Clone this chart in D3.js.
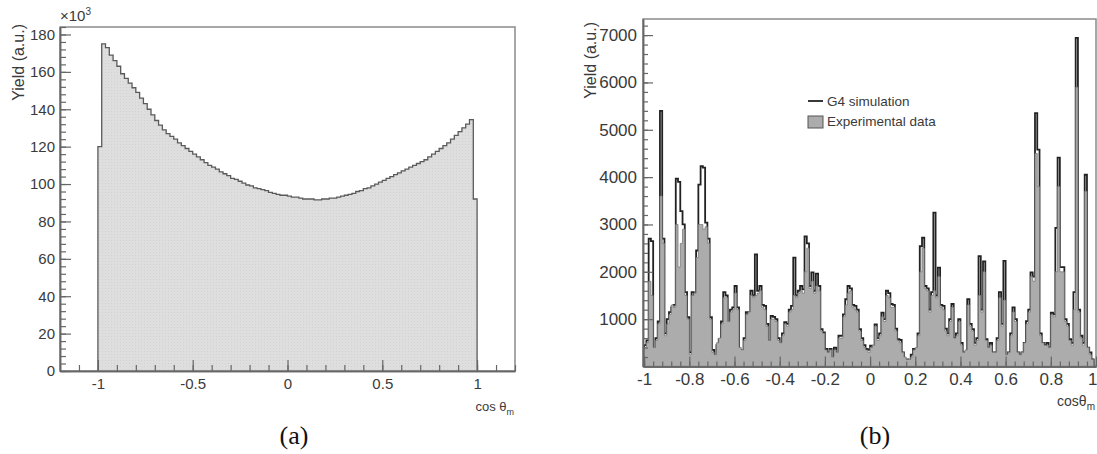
<!DOCTYPE html>
<html><head><meta charset="utf-8">
<script src="https://cdn.jsdelivr.net/npm/d3@7"></script>
<style>
body{margin:0;background:#fff}
text{font-family:"Liberation Sans",Arial,sans-serif}
text.serif{font-family:"Liberation Serif","Times New Roman",serif}
</style>
</head><body>
<svg id="c" width="1097" height="454"></svg>
<script>
// ---------- Panel (a): yield (x10^3) per bin, bins of equal width on [-1,1] ----------
const aRange = [-1, 1];
const aYields = [
 120,175,173,169,166,163,159,156.5,154,151.5,
 149,146,143,140,137,134,131.5,129,127,125.5,
 124,122,120.5,119,117.5,116,114.5,113,111.5,110,
 109,108,106.5,105.5,104.5,103,102.5,101.5,100.5,99.5,
 99,98,97.5,97,96.5,95.5,95,94.5,94,94,
 93.5,93,93,92.5,92,92,92,91.5,91.5,92,
 92,92.5,92.5,93,93.5,94,94.5,95,96,96.5,
 97.5,98,99,100,101,102,103,104,105,106,
 107,108,109,110,111,112,113,114.5,116,117.5,
 119,120.5,122,124,126,128,130,132,134.5,92
];
const aXTicks = [-1, -0.5, 0, 0.5, 1];
const aYTicks = [0, 20, 40, 60, 80, 100, 120, 140, 160, 180];

// ---------- Panel (b): two histograms on [-1,1] ----------
const bRange = [-1, 1];
const bSim = [
 450,550,2700,2650,350,600,950,5400,2700,700,
 1000,1150,1250,1300,3970,3900,3280,3000,1570,1040,
 300,1570,1500,2450,3840,4230,4200,3040,2700,1040,
 350,200,450,580,950,1570,1500,900,1200,1250,
 1700,1250,350,300,600,1150,1120,1600,1500,2370,
 1600,1700,1300,1280,900,515,1070,1050,1000,600,
 450,700,935,900,1200,1280,2300,1500,1600,1700,
 1630,2750,2600,1700,1990,1600,1960,1700,790,720,
 370,300,370,150,400,250,650,650,1100,1420,
 1700,1650,1300,1280,1200,790,600,450,370,350,
 440,400,890,600,700,1140,1000,1600,1550,1320,
 1300,800,580,560,300,150,150,100,250,370,
 370,700,2540,2720,1700,1650,1200,1570,3250,1500,
 2090,1300,1280,800,700,1000,1320,600,700,1000,
 500,300,300,1420,900,790,500,600,2330,1200,
 2220,580,400,500,300,300,600,1570,900,2230,
 200,300,700,1250,1000,300,250,300,500,960,
 1200,1990,1900,5350,4580,700,500,450,500,400,
 1140,1100,2930,4410,2100,2100,1000,900,580,500,
 1570,6940,1200,650,500,4050,400,300,150,0
];
const bExp = [
 400,500,1800,1500,400,550,900,3600,2600,650,
 900,1100,1300,1250,3000,2100,2600,2900,1500,1000,
 250,1500,1550,2300,3000,3000,2900,2950,2600,1000,
 300,250,500,600,900,1450,1450,950,1150,1200,
 1550,1200,400,350,550,1100,1150,1500,1450,1500,
 1550,1600,1250,1200,850,550,1000,1000,950,550,
 500,650,900,850,1150,1200,1500,1450,1550,1600,
 1550,2000,2500,1650,1800,1550,1700,1600,750,700,
 350,300,350,200,350,300,600,600,1050,1300,
 1550,1600,1250,1200,1150,750,550,400,350,300,
 400,450,850,550,650,1050,950,1500,1450,1250,
 1250,750,550,500,300,200,150,150,200,350,
 400,650,2000,2500,1650,1600,1150,1500,1600,1450,
 1900,1250,1200,750,650,950,1250,600,650,950,
 450,300,350,1300,850,750,450,550,1500,1150,
 2000,550,400,450,300,300,550,1450,850,1400,
 250,300,650,1150,950,300,250,300,500,900,
 1150,1900,1800,4500,3800,650,500,450,450,400,
 1100,1050,2000,3800,2000,2000,950,850,550,450,
 1200,5900,1150,600,450,3700,400,250,150,0
];
const bXTicks = [-1, -0.8, -0.6, -0.4, -0.2, 0, 0.2, 0.4, 0.6, 0.8, 1];
const bYTicks = [1000, 2000, 3000, 4000, 5000, 6000, 7000];
const legendLabels = ["G4 simulation", "Experimental data"];

const svg = d3.select("#c");

function stepPts(vals, range) {
  const w = (range[1] - range[0]) / vals.length;
  const pts = [[range[0], 0]];
  vals.forEach((v, i) => { pts.push([range[0] + i * w, v]); pts.push([range[0] + (i + 1) * w, v]); });
  pts.push([range[1], 0]);
  return pts;
}

function minorTicks(lo, hi, step) {
  const out = [];
  for (let k = Math.ceil(lo / step - 1e-9); k * step <= hi + 1e-9; k++) out.push(+(k * step).toFixed(6));
  return out;
}

function drawFrame(g, x, y, opt) {
  const [x0, x1] = x.range(), [y0, y1] = y.range();
  g.append("rect").attr("x", x0).attr("y", y1).attr("width", x1 - x0).attr("height", y0 - y1)
    .attr("fill", "none").attr("stroke", "#8a8a8a").attr("stroke-width", 1.5);
  const xa = g.append("g").attr("transform", `translate(0,${y0})`)
    .call(d3.axisBottom(x).tickValues(opt.xTicks).tickSize(-opt.major).tickPadding(opt.xPad).tickSizeOuter(0).tickFormat(opt.xFmt));
  g.append("g").attr("transform", `translate(0,${y0})`)
    .call(d3.axisBottom(x).tickValues(opt.xMinor).tickSize(-opt.minor).tickSizeOuter(0).tickFormat(""));
  const ya = g.append("g").attr("transform", `translate(${x0},0)`)
    .call(d3.axisLeft(y).tickValues(opt.yTicks).tickSize(-opt.major).tickPadding(opt.yPad).tickSizeOuter(0).tickFormat(opt.yFmt));
  g.append("g").attr("transform", `translate(${x0},0)`)
    .call(d3.axisLeft(y).tickValues(opt.yMinor).tickSize(-opt.minor).tickSizeOuter(0).tickFormat(""));
  g.selectAll(".domain").attr("stroke", "#666").attr("stroke-width", 1.5);
  g.selectAll(".tick line").attr("stroke", "#666").attr("stroke-width", 1.2);
  [xa, ya].forEach(a => a.selectAll("text").attr("font-size", opt.fs).attr("fill", "#3a3a3a"));
  return xa;
}

// ================= Panel (a) =================
{
  const x = d3.scaleLinear().domain([-1.2, 1.2]).range([60, 515]);
  const y = d3.scaleLinear().domain([0, 184]).range([371, 27]);
  const g = svg.append("g");
  const pts = stepPts(aYields, aRange);
  const defs = svg.append("defs");
  const pat = defs.append("pattern").attr("id", "hatchA").attr("width", 3).attr("height", 3)
    .attr("patternUnits", "userSpaceOnUse");
  pat.append("rect").attr("width", 3).attr("height", 3).attr("fill", "#dedede");
  pat.append("rect").attr("width", 1).attr("height", 1).attr("fill", "#d2d2d2");
  g.append("path").attr("d", d3.area().x(d => x(d[0])).y0(y(0)).y1(d => y(d[1]))(pts))
    .attr("fill", "url(#hatchA)");
  g.append("path").attr("d", d3.line().x(d => x(d[0])).y(d => y(d[1]))(pts))
    .attr("fill", "none").attr("stroke", "#5a5a5a").attr("stroke-width", 1.3);
  drawFrame(g, x, y, {
    xTicks: aXTicks, xMinor: minorTicks(-1.2, 1.2, 0.1), yTicks: aYTicks, yMinor: minorTicks(0, 184, 4),
    major: 11, minor: 6, xPad: 7, yPad: 5, fs: 15,
    xFmt: d => String(d), yFmt: d => String(d)
  });
  g.append("text").attr("x", 60).attr("y", 21).attr("font-size", 15).attr("fill", "#3a3a3a")
    .text("×10").append("tspan").attr("dy", -6).attr("font-size", 10).text("3");
  g.append("text").attr("transform", "translate(24,24) rotate(-90)").attr("text-anchor", "end")
    .attr("font-size", 16).attr("fill", "#3a3a3a").text("Yield (a.u.)");
  const t = g.append("text").attr("x", 514).attr("y", 411).attr("text-anchor", "end")
    .attr("font-size", 13).attr("fill", "#3a3a3a").text("cos θ");
  t.append("tspan").attr("dy", 4).attr("font-size", 9).text("m");
  g.append("text").attr("class", "serif").attr("x", 294).attr("y", 444).attr("text-anchor", "middle")
    .attr("font-size", 26).attr("fill", "#111").text("(a)");
}

// ================= Panel (b) =================
{
  const x = d3.scaleLinear().domain([-1.005, 1.0]).range([643, 1096]);
  const y = d3.scaleLinear().domain([0, 7340]).range([366.5, 19]);
  const g = svg.append("g");
  const sp = stepPts(bSim, bRange), ep = stepPts(bExp, bRange);
  g.append("path").attr("d", d3.line().x(d => x(d[0])).y(d => y(d[1]))(sp))
    .attr("fill", "none").attr("stroke", "#222").attr("stroke-width", 1.8);
  g.append("path").attr("d", d3.area().x(d => x(d[0])).y0(y(0)).y1(d => y(d[1]))(ep))
    .attr("fill", "#acacac").attr("stroke", "#7a7a7a").attr("stroke-width", 0.8);
  const xa = drawFrame(g, x, y, {
    xTicks: bXTicks, xMinor: minorTicks(-1, 1, 0.04), yTicks: bYTicks, yMinor: minorTicks(200, 7340, 200),
    major: 10, minor: 5, xPad: 6, yPad: 6, fs: 17,
    xFmt: d => String(d), yFmt: d => String(d)
  });
  // keep the last tick label ("1") inside the picture
  xa.selectAll(".tick text").filter(d => d === 1).attr("text-anchor", "end").attr("dx", 1);
  g.append("text").attr("transform", "translate(596,22) rotate(-90)").attr("text-anchor", "end")
    .attr("font-size", 16).attr("fill", "#3a3a3a").text("Yield (a.u.)");
  const t = g.append("text").attr("x", 1095).attr("y", 406).attr("text-anchor", "end")
    .attr("font-size", 14).attr("fill", "#3a3a3a").text("cosθ");
  t.append("tspan").attr("dy", 4).attr("font-size", 10).text("m");
  g.append("text").attr("class", "serif").attr("x", 875).attr("y", 444).attr("text-anchor", "middle")
    .attr("font-size", 26).attr("fill", "#111").text("(b)");
  const lg = g.append("g");
  lg.append("line").attr("x1", 808).attr("x2", 823).attr("y1", 101).attr("y2", 101)
    .attr("stroke", "#222").attr("stroke-width", 1.8);
  lg.append("rect").attr("x", 808).attr("y", 116).attr("width", 15).attr("height", 12)
    .attr("fill", "#acacac").attr("stroke", "#555").attr("stroke-width", 1);
  lg.selectAll("text.lab").data(legendLabels).join("text").attr("class", "lab")
    .attr("x", 827).attr("y", (d, i) => 106 + i * 20).attr("font-size", 13.5).attr("fill", "#3a3a3a").text(d => d);
}
</script>
</body></html>
